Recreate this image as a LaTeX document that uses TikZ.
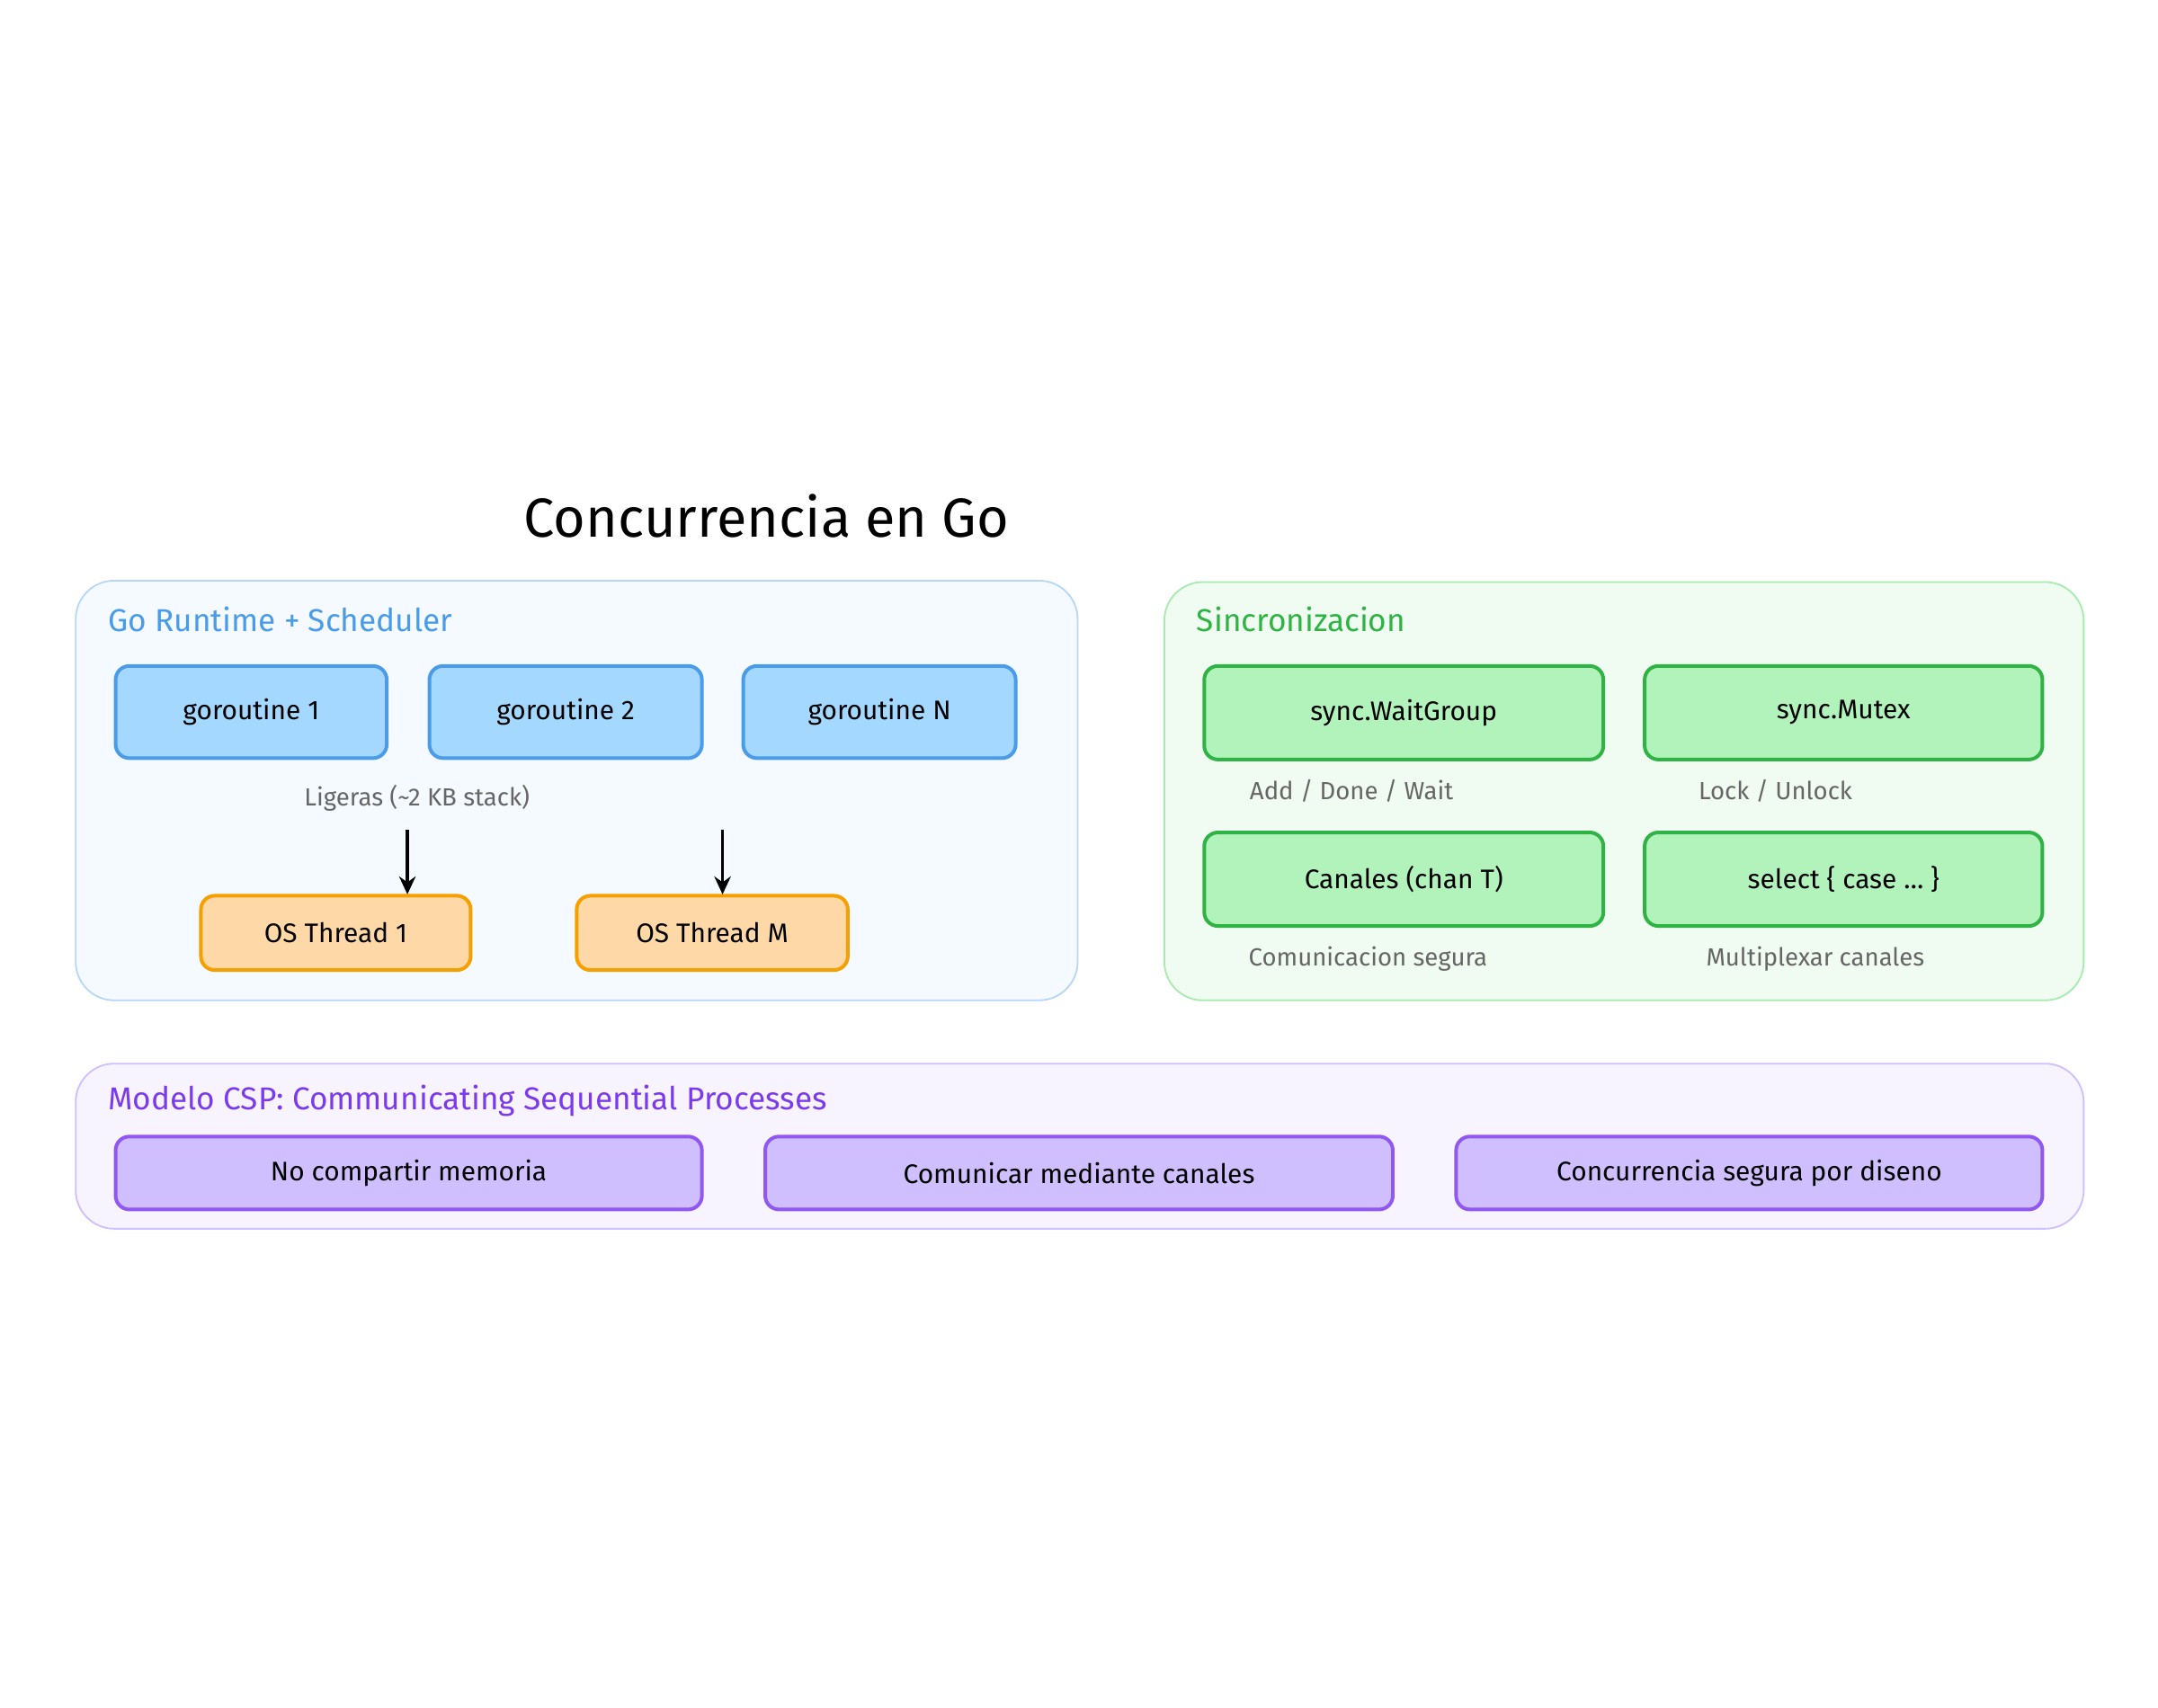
\documentclass[tikz,border=0pt]{standalone}
\usepackage{fontspec}
\setmainfont{Fira Sans}
\usetikzlibrary{arrows.meta}
\definecolor{bfill}{HTML}{A5D8FF}\definecolor{bline}{HTML}{4A9BE8}
\definecolor{ofill}{HTML}{FFD8A8}\definecolor{oline}{HTML}{F59F00}
\definecolor{gfill}{HTML}{B2F2BB}\definecolor{gline}{HTML}{2FB344}
\definecolor{pfill}{HTML}{D0BFFF}\definecolor{pline}{HTML}{7C3AED}
\begin{document}
\begin{tikzpicture}[x=1pt,y=-1pt,
 cont/.style={rounded corners=28pt,line width=1.2pt},
 box/.style={rounded corners=10pt,line width=2.6pt},
 t/.style={font=\fontsize{19.5}{23}\selectfont},
 lab/.style={font=\fontsize{18}{21}\selectfont,text=black!60},
 ctitle/.style={anchor=west,font=\fontsize{23}{27}\selectfont}]
\useasboundingbox[fill=white] (0,0) rectangle (1568,1241);
\node[font=\fontsize{40}{46}\selectfont] (title) at (557,375) {Concurrencia en Go};
% blue
\draw[cont,fill=bfill!12,draw=bline!40] (55,422) rectangle (783,727);
\node[ctitle,text=bline] (bt) at (75,450) {Go Runtime + Scheduler};
\foreach \n/\a/\b/\s in {g1/84/281/goroutine 1,g2/312/510/goroutine 2,gn/540/738/goroutine N}{
 \draw[box,fill=bfill,draw=bline] (\a,484) rectangle (\b,551);
 \node[t] (\n) at ({(\a+\b)/2},517.5) {\s};}
\node[lab] (lig) at (303,580) {Ligeras (\char"7E 2 KB stack)};
\draw[box,fill=ofill,draw=oline] (146,651) rectangle (342,705);
\node[t] (o1) at (244,678) {OS Thread 1};
\draw[box,fill=ofill,draw=oline] (419,651) rectangle (616,705);
\node[t] (om) at (517.5,678) {OS Thread M};
\coordinate (a1) at (296,603); \coordinate (a2) at (525,603);
\coordinate (e1) at (296,650); \coordinate (e2) at (525,650);
\draw[-{Stealth[length=13pt,width=12pt]},line width=2.4pt] (a1) -- (e1);
\draw[-{Stealth[length=13pt,width=12pt]},line width=2.4pt] (a2) -- (e2);
% green
\draw[cont,fill=gfill!20,draw=gfill!90!gline] (846,423) rectangle (1514,727);
\node[ctitle,text=gline] (gt) at (866,450) {Sincronizacion};
\foreach \n/\a/\b/\y/\s in {wg/875/1165/484/sync.WaitGroup,mu/1195/1484/484/sync.Mutex,ch/875/1165/605/Canales (chan T)}{
 \draw[box,fill=gfill,draw=gline] (\a,\y) rectangle (\b,\y+68);
 \node[t] (\n) at ({(\a+\b)/2},\y+34) {\s};}
\draw[box,fill=gfill,draw=gline] (1195,605) rectangle (1484,673);
\node[t] (se) at (1339.5,639) {select \{ case \dots\ \}};
\node[lab] (l1) at (982,575) {Add / Done / Wait};
\node[lab] (l2) at (1290,575) {Lock / Unlock};
\node[lab] (l3) at (994,697) {Comunicacion segura};
\node[lab] (l4) at (1319,697) {Multiplexar canales};
% purple
\draw[cont,fill=pfill!18,draw=pfill] (55,773) rectangle (1514,893);
\node[ctitle,text=pline] (pt) at (75,800) {Modelo CSP: Communicating Sequential Processes};
\foreach \n/\a/\b/\s in {p1/84/510/No compartir memoria,p2/556/1012/Comunicar mediante canales,p3/1058/1484/Concurrencia segura por diseno}{
 \draw[box,fill=pfill,draw=pline!85] (\a,826) rectangle (\b,879);
 \node[t] (\n) at ({(\a+\b)/2},852.5) {\s};}
\end{tikzpicture}
\end{document}
